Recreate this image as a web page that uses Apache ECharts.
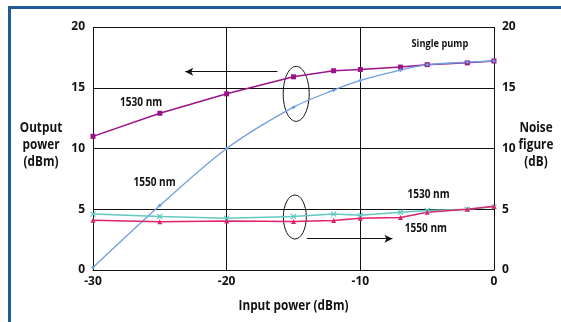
<!DOCTYPE html>
<html>
<head>
<meta charset="utf-8">
<script src="https://cdn.jsdelivr.net/npm/echarts@6/dist/echarts.min.js"></script>
<style>
  html, body { margin: 0; padding: 0; background: #fff; }
  #frame {
    position: absolute; left: 8px; top: 6px; width: 600px; height: 400px;
    border-left: 3px solid #1b5c99; border-top: 3px solid #1b5c99;
  }
  #chart { position: absolute; left: 0; top: 0; width: 561px; height: 322px; }
</style>
</head>
<body>
<div id="frame"></div>
<div id="chart"></div>
<script>
// input power (dBm)
const inputPower = [-30, -25, -20, -15, -12, -10, -7, -5, -2, 0]
// output power (dBm)
const out1530 = [11.0, 12.9, 14.5, 15.9, 16.4, 16.5, 16.7, 16.9, 17.05, 17.2]
const out1550 = [0.2, 5.3, 10.0, 13.4, 14.8, 15.6, 16.45, 16.9, 17.1, 17.2]
// noise figure (dB)
const nf1530 = [4.6, 4.4, 4.25, 4.4, 4.6, 4.5, 4.75, 4.9, 5.0, 5.2]
const nf1550 = [4.1, 3.97, 4.03, 4.0, 4.08, 4.25, 4.33, 4.75, 5.0, 5.25]
const yTicks = [0, 5, 10, 15, 20]

const font = '"Open Sans", "Liberation Sans", sans-serif'
const pairs = (xs, ys) => xs.map((x, i) => [x, ys[i]])

const chart = echarts.init(document.getElementById('chart'))

const axisY = (pos) => ({
  type: 'value',
  position: pos,
  min: yTicks[0],
  max: yTicks[yTicks.length - 1],
  interval: 5,
  axisLine: { show: false },
  axisTick: { show: false },
  splitLine: { show: pos === 'left', lineStyle: { color: '#111', width: 1 } },
  axisLabel: { color: '#111', fontWeight: 'bold', fontSize: 12, fontFamily: font, margin: 8 }
})

chart.setOption({
  animation: false,
  grid: { left: 93, right: 67, top: 27, bottom: 52 },
  xAxis: {
    type: 'value',
    min: -30,
    max: 0,
    interval: 10,
    axisLine: { lineStyle: { color: '#111', width: 1 } },
    axisTick: { show: false },
    splitLine: { show: true, lineStyle: { color: '#111', width: 1 } },
    axisLabel: { color: '#111', fontWeight: 'bold', fontSize: 12, fontFamily: font, margin: 6 }
  },
  yAxis: [axisY('left'), axisY('right')],
  series: [
    {
      name: 'Output 1530 nm', type: 'line', yAxisIndex: 0,
      data: pairs(inputPower, out1530),
      symbol: 'rect', symbolSize: 5,
      lineStyle: { color: '#9c1289', width: 1.5 },
      itemStyle: { color: '#9c1289' }
    },
    {
      name: 'Output 1550 nm', type: 'line', yAxisIndex: 0, smooth: 0.3,
      data: pairs(inputPower, out1550),
      symbol: 'diamond', symbolSize: 4,
      lineStyle: { color: '#6e9ee0', width: 1.3 },
      itemStyle: { color: '#6e9ee0' },
      markLine: {
        silent: true, symbol: ['arrow', 'none'], symbolSize: [6, 8],
        lineStyle: { color: '#111', width: 1, type: 'solid' },
        label: { show: false },
        data: [[{ coord: [-23.1, 16.32] }, { coord: [-16.2, 16.32] }]]
      }
    },
    {
      name: 'NF 1530 nm', type: 'line', yAxisIndex: 1,
      data: pairs(inputPower, nf1530),
      symbol: 'path://M0,0L10,10M10,0L0,10', symbolSize: 5,
      lineStyle: { color: '#62c9c3', width: 1.5 },
      itemStyle: { color: '#62c9c3', borderColor: '#62c9c3', borderWidth: 1.2 }
    },
    {
      name: 'NF 1550 nm', type: 'line', yAxisIndex: 1,
      data: pairs(inputPower, nf1550),
      symbol: 'triangle', symbolSize: 5,
      lineStyle: { color: '#e2206b', width: 1.5 },
      itemStyle: { color: '#e2206b' },
      markLine: {
        silent: true, symbol: ['none', 'arrow'], symbolSize: [6, 8],
        lineStyle: { color: '#111', width: 1, type: 'solid' },
        label: { show: false },
        data: [[{ coord: [-14, 2.58] }, { coord: [-7.6, 2.58] }]]
      }
    }
  ]
})

// annotations placed in data space; text is squeezed a little to look condensed
const px = (x, y) => chart.convertToPixel({ xAxisIndex: 0, yAxisIndex: 0 }, [x, y])
const text = (t, x, y, size, lh) => ({
  type: 'text', x: x, y: y, scaleX: 0.84,
  style: {
    text: t, fill: '#111', font: 'bold ' + size + 'px ' + font,
    align: 'center', verticalAlign: 'middle', lineHeight: lh || size + 2
  }
})
const label = (t, x, y, size) => {
  const p = px(x, y)
  return text(t, p[0], p[1], size)
}
const ellipse = (x, y, rx, ry) => {
  const p = px(x, y)
  return {
    type: 'ellipse', shape: { cx: p[0], cy: p[1], rx: rx, ry: ry },
    style: { fill: 'none', stroke: '#111', lineWidth: 1 }
  }
}

chart.setOption({
  graphic: [
    ellipse(-14.8, 14.5, 13, 27.5),
    ellipse(-14.9, 4.36, 11.5, 22),
    label('1530 nm', -26.4, 13.8, 12),
    label('1550 nm', -25.4, 7.2, 12),
    label('Single pump', -4.05, 18.6, 11),
    label('1530 nm', -4.9, 6.2, 12),
    label('1550 nm', -5.1, 3.37, 12),
    text('Output\npower\n(dBm)', 41, 145, 14, 17),
    text('Noise\nfigure\n(dB)', 536, 145, 14, 17),
    text('Input power (dBm)', px(-15, 0)[0], 306, 14)
  ]
})
</script>
</body>
</html>
